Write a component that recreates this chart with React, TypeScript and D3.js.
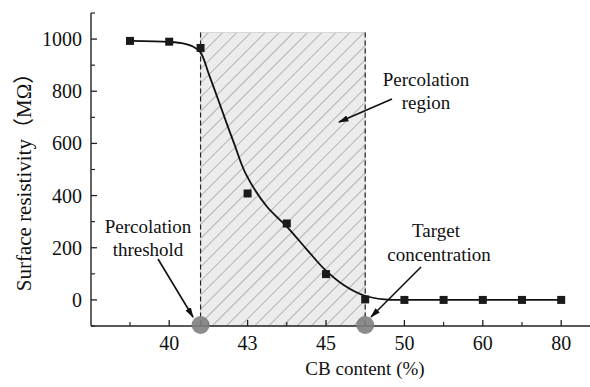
import React from "react";
import * as d3 from "d3";

// Measured samples: CB content (%) vs surface resistivity (MΩ)
const cbContent = [38.5, 40, 41.2, 43, 44, 45, 47.5, 50, 55, 60, 70, 80];
const resistivity = [993, 990, 966, 408, 293, 99, 2, 0, 0, 0, 0, 0];

// Fitted trend curve
const fitCB = [38.5, 40, 40.57, 40.88, 41.19, 41.53, 41.91, 42.22, 42.49, 42.93, 43.48, 44, 44.49, 44.98, 46.2, 47.46, 48.73, 50, 55, 60, 70, 80];
const fitR = [993, 989, 983, 973, 950, 862, 758, 671, 598, 483, 360, 281, 197, 115, 54, 16, 2, 0, 0, 0, 0, 0];

// Axis ticks (the x axis is drawn with scale breaks)
const xMajorTicks = [40, 43, 45, 50, 60, 80];
const xMinorTicks = [38.5, 41.5, 44, 47.5, 55, 70];
const xBreaks = [38.5, 40, 43, 45, 50, 60, 80];
const xBreakSlots = [0, 1, 3, 5, 7, 9, 11];
const yMajorTicks = [0, 200, 400, 600, 800, 1000];
const yMinorTicks = [-100, 100, 300, 500, 700, 900, 1100];

// Percolation region bounds
const regionStart = 41.2;
const regionEnd = 47.5;
const regionTop = 1025;

const W = 590;
const H = 387;
const axisLeft = 91;
const axisRight = 590;
const plotTop = 13;
const plotBottom = 326;
const slot0 = 130;
const slotStep = 39.2;

const serif = "'Liberation Serif', 'Times New Roman', 'Noto Sans CJK SC', serif";

export default function App() {
  const x = d3
    .scaleLinear()
    .domain(xBreaks)
    .range(xBreakSlots.map((s) => slot0 + s * slotStep));
  const y = d3.scaleLinear().domain([-100, 1100]).range([plotBottom, plotTop]);

  const line = d3
    .line<number>()
    .x((_, i) => x(fitCB[i]))
    .y((d) => y(d))
    .curve(d3.curveCatmullRom.alpha(0.5));

  const rx0 = x(regionStart);
  const rx1 = x(regionEnd);
  const ry0 = y(regionTop);

  const arrow = (x1: number, y1: number, x2: number, y2: number, key: string) => (
    <line key={key} x1={x1} y1={y1} x2={x2} y2={y2} stroke="#111" strokeWidth={1.6} markerEnd="url(#arrowHead)" />
  );

  return (
    <svg width={W} height={H} style={{ position: "absolute", left: 0, top: 0, background: "#fff" }}>
      <defs>
        <pattern id="hatch" patternUnits="userSpaceOnUse" width={10} height={10} patternTransform="rotate(45)">
          <rect width={10} height={10} fill="#ececec" />
          <line x1={0} y1={0} x2={0} y2={10} stroke="#8f8f8f" strokeWidth={1.2} />
        </pattern>
        <marker id="arrowHead" viewBox="0 0 10 10" refX={9} refY={5} markerWidth={6.5} markerHeight={6.5} orient="auto" markerUnits="strokeWidth">
          <path d="M0,2 L10,5 L0,8 Z" fill="#111" />
        </marker>
      </defs>

      {/* percolation region */}
      <rect x={rx0} y={ry0} width={rx1 - rx0} height={plotBottom - ry0} fill="url(#hatch)" stroke="#d0d0d0" strokeWidth={0.8} />
      {[rx0, rx1].map((px, i) => (
        <line key={`dash${i}`} x1={px} x2={px} y1={ry0} y2={plotBottom} stroke="#222" strokeWidth={1.2} strokeDasharray="5,3" />
      ))}

      {/* axes */}
      <line x1={axisLeft} x2={axisLeft} y1={plotTop} y2={plotBottom} stroke="#222" strokeWidth={1.4} />
      <line x1={axisLeft} x2={axisRight} y1={plotBottom} y2={plotBottom} stroke="#222" strokeWidth={1.4} />
      {yMajorTicks.map((v) => (
        <g key={`ym${v}`}>
          <line x1={axisLeft} x2={axisLeft + 6} y1={y(v)} y2={y(v)} stroke="#222" strokeWidth={1.3} />
          <text x={82} y={y(v)} dy="0.35em" textAnchor="end" fontFamily={serif} fontSize={20} fill="#111">
            {v}
          </text>
        </g>
      ))}
      {yMinorTicks.map((v) => (
        <line key={`yn${v}`} x1={axisLeft} x2={axisLeft + 4} y1={y(v)} y2={y(v)} stroke="#222" strokeWidth={1.2} />
      ))}
      {xMajorTicks.map((v) => (
        <g key={`xm${v}`}>
          <line x1={x(v)} x2={x(v)} y1={plotBottom} y2={plotBottom - 6} stroke="#222" strokeWidth={1.3} />
          <text x={x(v)} y={350} textAnchor="middle" fontFamily={serif} fontSize={20} fill="#111">
            {v}
          </text>
        </g>
      ))}
      {xMinorTicks.map((v) => (
        <line key={`xn${v}`} x1={x(v)} x2={x(v)} y1={plotBottom} y2={plotBottom - 4} stroke="#222" strokeWidth={1.2} />
      ))}

      {/* axis titles */}
      <text x={365} y={375} textAnchor="middle" fontFamily={serif} fontSize={19} fill="#111">
        CB content (%)
      </text>
      <text transform="translate(31,177) rotate(-90)" textAnchor="middle" fontFamily={serif} fontSize={21} fill="#111">
        Surface resistivity（MΩ）
      </text>

      {/* fitted curve and measured points */}
      <path d={line(fitR) ?? ""} fill="none" stroke="#111" strokeWidth={1.8} />
      {resistivity.map((v, i) => (
        <rect key={`pt${i}`} x={x(cbContent[i]) - 4} y={y(v) - 4} width={8} height={8} fill="#1a1a1a" />
      ))}

      {/* threshold and target markers on the axis */}
      {[rx0, rx1].map((px, i) => (
        <circle key={`c${i}`} cx={px} cy={plotBottom - 1} r={9} fill="#7f7f7f" fillOpacity={0.9} />
      ))}

      {/* annotations */}
      {arrow(158, 259, 193, 317, "a1")}
      {arrow(392, 99, 339, 122, "a2")}
      {arrow(421, 267, 371, 317, "a3")}
      <g fontFamily={serif} fontSize={19} fill="#111" textAnchor="middle">
        <text x={148} y={233}>Percolation</text>
        <text x={148} y={256}>threshold</text>
        <text x={426} y={86}>Percolation</text>
        <text x={426} y={109}>region</text>
        <text x={436} y={237}>Target</text>
        <text x={439} y={261}>concentration</text>
      </g>
    </svg>
  );
}
